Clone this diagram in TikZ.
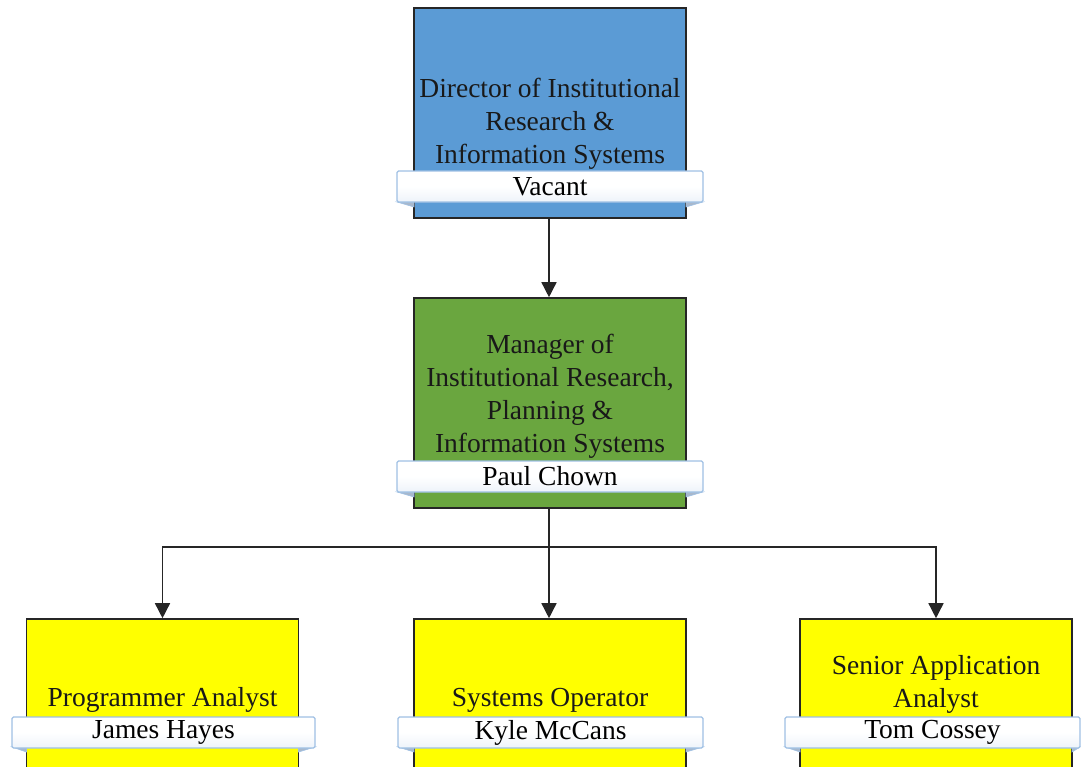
\documentclass[tikz,border=0pt]{standalone}
\usepackage{fontspec}
\setmainfont{Liberation Serif}
\usetikzlibrary{arrows.meta}
\definecolor{dirblue}{HTML}{5B9BD5}
\definecolor{mgrgreen}{HTML}{6AA63F}
\definecolor{staffyellow}{HTML}{FFFF00}
\definecolor{tabedge}{HTML}{9FC0E4}
\definecolor{tabfold}{HTML}{A8B8CC}
\definecolor{tabshade}{HTML}{EEF3FA}
\definecolor{boxline}{HTML}{262626}
\tikzset{
  x=1pt, y=-1pt,
  box/.style={draw=boxline, line width=1.6pt, minimum width=272pt, inner sep=0pt},
  title/.style={align=center, inner sep=0pt, text=black!90,
    font=\fontsize{27.5}{33}\selectfont},
  nametab/.style={draw=tabedge, line width=1.2pt, top color=white, bottom color=tabshade,
    middle color=white, rounded corners=1.5pt, minimum height=31pt, inner sep=0pt,
    font=\fontsize{27.5}{33}\selectfont},
  fold/.style={fill=tabfold, draw=tabedge, line width=0.6pt},
  link/.style={draw=boxline, line width=1.5pt},
  arr/.style={link, -{Triangle[length=15pt,width=15pt]}}
}
\begin{document}
\begin{tikzpicture}
\useasboundingbox (0,0) rectangle (1081,766);
\clip (0,0) rectangle (1081,766);

% boxes
\node[box, fill=dirblue, minimum height=210pt] (dir) at (550,113) {};
\node[box, fill=mgrgreen, minimum height=210pt] (mgr) at (550,403) {};
\node[box, fill=staffyellow, minimum height=190pt] (prog) at (162.5,714) {};
\node[box, fill=staffyellow, minimum height=190pt] (sysop) at (550,714) {};
\node[box, fill=staffyellow, minimum height=190pt] (senior) at (936,714) {};

% folds behind the name tabs
\foreach \bx/\tl/\tr/\ty in {550/397/703/202, 550/397/703/492, 162.5/12/315/747, 550/398/703/747, 936/785/1080/747}{
  \fill[fold] (\tl,\ty) -- (\bx-136,\ty) -- (\bx-136,\ty+5) -- cycle;
  \fill[fold] (\tr,\ty) -- (\bx+136,\ty) -- (\bx+136,\ty+5) -- cycle;
}

% titles
\node[title] (dirt) at (550,124) {Director of Institutional\\Research \&\\Information Systems};
\node[title] (mgrt) at (550,396) {Manager of\\Institutional Research,\\Planning \&\\Information Systems};
\node[title] (progt) at (162.5,700) {Programmer Analyst};
\node[title] (sysopt) at (550,700) {Systems Operator};
\node[title] (seniort) at (936,684) {Senior Application\\Analyst};

% name tabs
\node[nametab, minimum width=306pt] (dirn) at (550,186.5) {Vacant};
\node[nametab, minimum width=306pt] (mgrn) at (550,476.5) {Paul Chown};
\node[nametab, minimum width=303pt] (progn) at (163.5,732.5) {James Hayes};
\node[nametab, minimum width=305pt] (sysopn) at (550.5,732.5) {Kyle McCans};
\node[nametab, minimum width=295pt] (seniorn) at (932.5,732.5) {Tom Cossey};

% connectors
\coordinate (bus) at (549,547);
\draw[arr] (dir.south -| 549,0) -- (mgr.north -| 549,0);
\draw[link] (mgr.south -| 549,0) -- (bus);
\draw[arr] (bus) -- (sysop.north -| 549,0);
\draw[arr] (bus) -| (prog.north);
\draw[arr] (bus) -| (senior.north);
\end{tikzpicture}
\end{document}
